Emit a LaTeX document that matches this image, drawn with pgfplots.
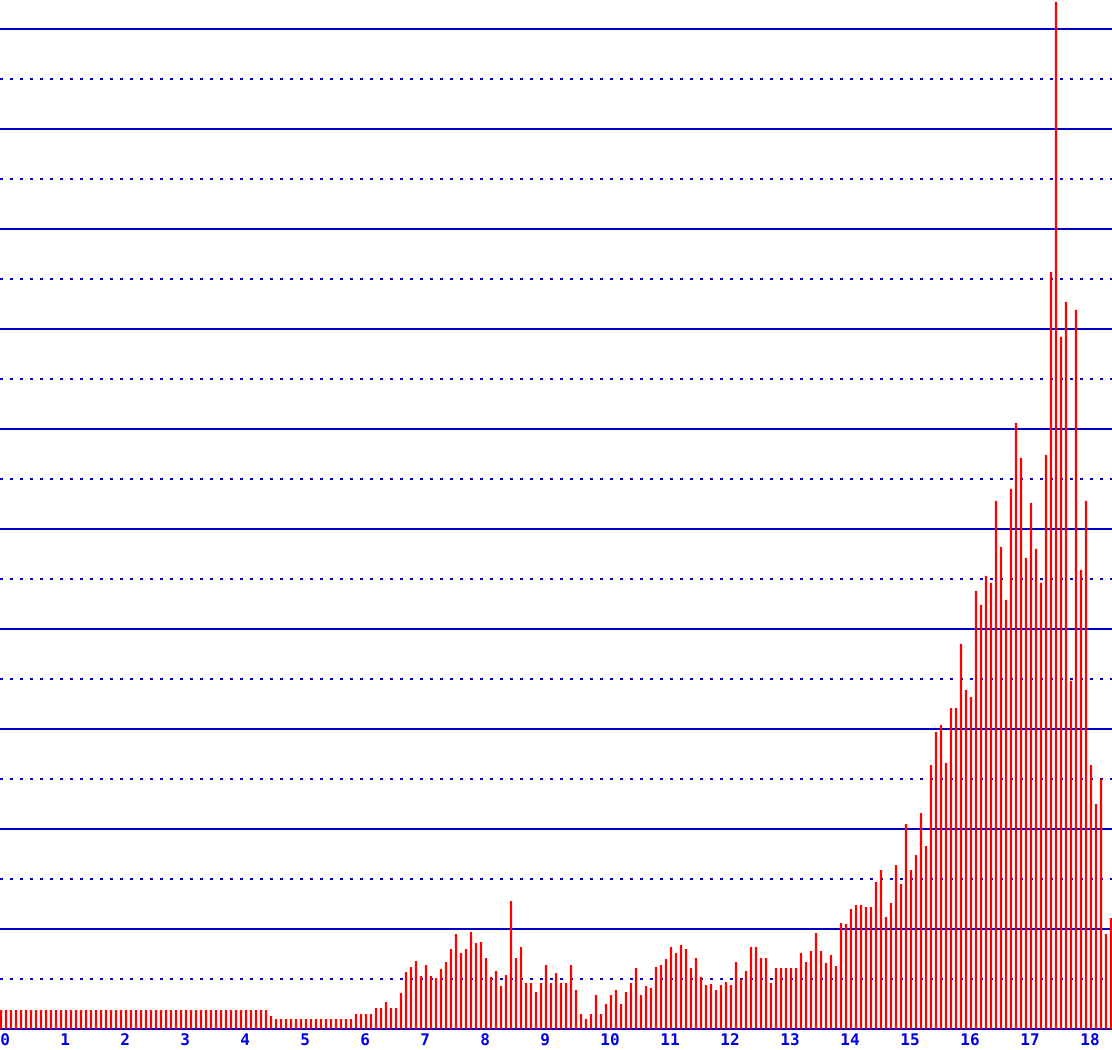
\documentclass[border=0pt]{standalone}
\usepackage{pgfplots}
\usepackage{pgfplotstable}
\pgfplotsset{compat=1.18}
\usepackage{fontspec}
\setmonofont{DejaVu Sans Mono}
\definecolor{gridblue}{RGB}{0,0,200}
\definecolor{labblue}{RGB}{0,0,230}
\definecolor{barred}{RGB}{255,0,0}
\pgfplotstableread{
h
19
19
19
19
19
19
19
19
19
19
19
19
19
19
19
19
19
19
19
19
19
19
19
19
19
19
19
19
19
19
19
19
19
19
19
19
19
19
19
19
19
19
19
19
19
19
19
19
19
19
19
19
19
19
13
10
10
10
10
10
10
10
10
10
10
10
10
10
10
10
10
15
15
15
15
21
21
27
21
21
36
57
62
68
53
64
53
51
60
67
80
95
76
80
97
86
87
71
52
58
43
54
128
71
82
46
46
37
46
64
46
56
46
46
64
39
15
10
15
34
15
25
34
39
25
37
46
61
34
43
41
62
64
70
82
76
84
80
61
71
52
44
45
39
44
47
44
67
50
58
82
82
71
71
46
61
61
61
61
61
76
67
78
96
78
66
74
63
106
105
120
124
124
122
122
147
159
112
126
164
145
205
159
174
216
183
264
297
304
266
321
321
385
339
332
438
424
453
446
528
482
429
540
606
571
471
526
480
446
574
757
1027
692
727
348
719
459
528
264
225
250
95
111
}\datatable
\begin{document}
\begin{tikzpicture}
\begin{axis}[
  name=ax,
  at={(0,0)}, anchor=south west,
  scale only axis,
  width=556pt, height=524.5pt,
  xmin=-0.2, xmax=222.2,
  ymin=-20, ymax=1029,
  axis line style={draw=none},
  clip=false,
  ytick={0,100,200,300,400,500,600,700,800,900,1000},
  minor ytick={50,150,250,350,450,550,650,750,850,950},
  yticklabels={},
  ymajorgrids, yminorgrids,
  major grid style={gridblue, line width=0.55pt, solid},
  minor grid style={gridblue, line width=0.55pt, dash pattern=on 1.5pt off 3.5pt},
  major tick length=0pt, minor tick length=0pt,
  xtick={-0.2,11.8,23.8,35.8,47.8,59.8,71.8,83.8,95.8,107.8,119.8,131.8,143.8,155.8,167.8,179.8,191.8,203.8,215.8},
  xticklabels={0,1,2,3,4,5,6,7,8,9,10,11,12,13,14,15,16,17,18},
  xticklabel style={anchor=west, inner sep=0pt, yshift=4.75pt, text=labblue, font=\ttfamily\bfseries\fontsize{8}{9}\selectfont},
]
\addplot[ybar, bar width=1.1pt, fill=barred, draw=none] table[x expr=\coordindex, y=h] {\datatable};
\end{axis}
\pgfresetboundingbox
\path[use as bounding box] (0,0) rectangle (556pt,524.5pt);
\end{tikzpicture}
\end{document}
